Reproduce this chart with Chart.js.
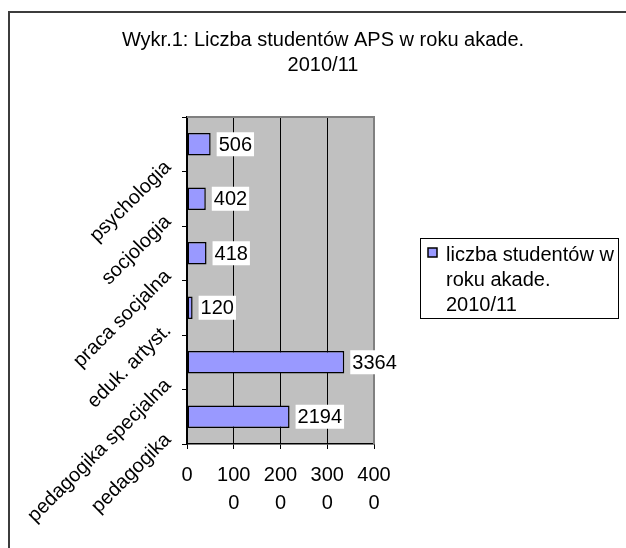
<!DOCTYPE html>
<html>
<head>
<meta charset="utf-8">
<script src="https://cdn.jsdelivr.net/npm/chart.js@4/dist/chart.umd.min.js"></script>
<style>
  html, body { margin: 0; padding: 0; background: #fff; overflow: hidden; }
  #wrap { position: relative; width: 626px; height: 548px; }
  #frame { position: absolute; left: 8px; top: 11px; width: 700px; height: 700px;
           border-top: 2px solid #3c3c3c; border-left: 2px solid #3c3c3c; }
  canvas { position: absolute; left: 0; top: 0; }
</style>
</head>
<body>
<div id="wrap">
  <div id="frame"></div>
  <canvas id="chart" width="626" height="548"></canvas>
</div>
<script>
const titleLines = ["Wykr.1: Liczba studentów APS w roku akade.", "2010/11"];
const categories = ["psychologia", "socjologia", "praca socjalna", "eduk. artyst.", "pedagogika specjalna", "pedagogika"];
const students   = [506, 402, 418, 120, 3364, 2194];
const seriesName = "liczba studentów w roku akade. 2010/11";
const legendLines = ["liczba studentów w", "roku akade.", "2010/11"];
const xTickLabels = [["0"], ["100", "0"], ["200", "0"], ["300", "0"], ["400", "0"]];

const FONT = "'Liberation Sans', Arial, sans-serif";
const BAR_FILL = "#9999ff";

// gray plot background + gray frame on top/right
const plotPlugin = {
  id: "plotBg",
  beforeDraw(chart) {
    const { ctx, chartArea: a } = chart;
    ctx.save();
    ctx.fillStyle = "#c0c0c0";
    ctx.fillRect(a.left, a.top, a.right - a.left, a.bottom - a.top);
    ctx.restore();
  },
  beforeDatasetsDraw(chart) {
    const { ctx, chartArea: a } = chart;
    ctx.save();
    ctx.strokeStyle = "#808080";
    ctx.lineWidth = 2;
    ctx.beginPath();
    ctx.moveTo(a.left, a.top); ctx.lineTo(a.right, a.top); ctx.lineTo(a.right, a.bottom);
    ctx.stroke();
    ctx.restore();
  }
};

// value labels in white boxes, title and legend
const overlayPlugin = {
  id: "overlay",
  afterDatasetsDraw(chart) {
    const ctx = chart.ctx;
    const meta = chart.getDatasetMeta(0);
    ctx.save();
    ctx.font = "20px " + FONT;
    ctx.textBaseline = "middle";
    ctx.textAlign = "left";
    meta.data.forEach((bar, i) => {
      const txt = String(students[i]);
      const w = ctx.measureText(txt).width;
      const x = bar.x + 6;
      ctx.fillStyle = "#fff";
      ctx.fillRect(x, bar.y - 12, w + 4, 24);
      ctx.fillStyle = "#000";
      ctx.fillText(txt, x + 2, bar.y + 1);
    });
    ctx.restore();
  },
  afterDraw(chart) {
    const ctx = chart.ctx;
    ctx.save();
    // title
    ctx.font = "20px " + FONT;
    ctx.fillStyle = "#000";
    ctx.textAlign = "center";
    ctx.textBaseline = "middle";
    titleLines.forEach((t, i) => ctx.fillText(t, 323, 40 + i * 25));

    // legend
    ctx.strokeStyle = "#000";
    ctx.lineWidth = 1;
    ctx.strokeRect(420.5, 238.5, 198, 80);
    ctx.fillStyle = BAR_FILL;
    ctx.fillRect(428, 248, 9, 9);
    ctx.lineWidth = 1.5;
    ctx.strokeRect(428, 248, 9, 9);
    ctx.fillStyle = "#000";
    ctx.textAlign = "left";
    ctx.font = "20px " + FONT;
    legendLines.forEach((t, i) => ctx.fillText(t, 446, 255 + i * 25));
    ctx.restore();
  }
};

new Chart(document.getElementById("chart"), {
  type: "bar",
  data: {
    labels: categories,
    datasets: [{
      label: seriesName,
      data: students,
      backgroundColor: BAR_FILL,
      borderColor: "#000",
      borderWidth: 1.5,
      borderSkipped: false,
      barPercentage: 0.41,
      categoryPercentage: 1,
    }]
  },
  plugins: [plotPlugin, overlayPlugin],
  options: {
    indexAxis: "y",
    responsive: false,
    animation: false,
    layout: { padding: { left: 0, right: 252, top: 117, bottom: 24 } },
    plugins: {
      legend: { display: false },
      title: { display: false },
      tooltip: { enabled: false },
    },
    scales: {
      x: {
        min: 0,
        max: 4000,
        afterFit(axis) { axis.height = 80; },
        grid: {
          color: "#000",
          lineWidth: 1,
          tickLength: 5,
          drawTicks: true,
        },
        border: { color: "#000", width: 1.5 },
        ticks: {
          stepSize: 1000,
          color: "#000",
          padding: 12,
          maxRotation: 0,
          font: { size: 20, family: FONT, lineHeight: 1.4 },
          callback: (v, i) => xTickLabels[i],
        },
      },
      y: {
        afterFit(axis) { axis.width = 187; },
        grid: {
          drawOnChartArea: false,
          drawTicks: true,
          tickLength: 5,
          color: "#000",
        },
        border: { color: "#000", width: 1.5 },
        ticks: {
          color: "#000",
          minRotation: 45,
          maxRotation: 45,
          labelOffset: 20,
          padding: 14,
          autoSkip: false,
          font: { size: 20, family: FONT },
        },
      },
    },
  },
});
</script>
</body>
</html>
